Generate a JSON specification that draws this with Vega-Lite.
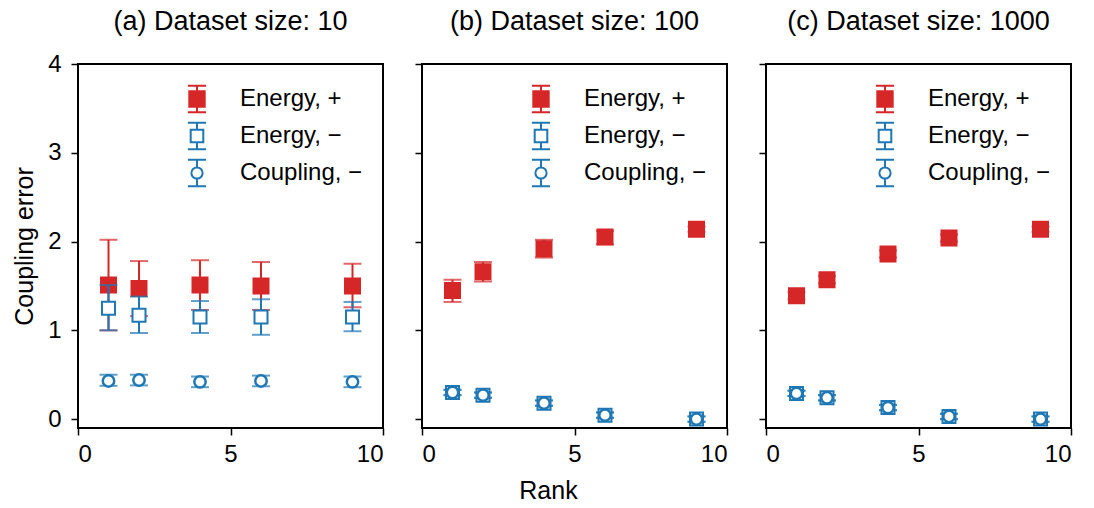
{
  "$schema": "https://vega.github.io/schema/vega-lite/v6.json",
  "background": "white",
  "padding": {"left": 11, "top": 7, "right": 5, "bottom": 5},
  "bounds": "flush",
  "spacing": 39,
  "config": {
    "font": "Liberation Sans",
    "view": {"stroke": "#000", "strokeWidth": 2},
    "axis": {"grid": false, "domain": false, "tickColor": "#000", "tickWidth": 1.5, "tickSize": 7, "labelColor": "#000", "labelFontSize": 24, "titleFontSize": 25, "titleColor": "#000", "titleFontWeight": "normal", "labelFont": "Liberation Sans", "titleFont": "Liberation Sans"},
    "title": {"fontSize": 27, "fontWeight": "normal", "color": "#000", "font": "Liberation Sans", "offset": 16, "frame": "group"},
    "legend": {"title": null, "orient": "top-right", "offset": 20, "padding": 0, "symbolSize": 784, "symbolStrokeWidth": 2, "labelFontSize": 24, "labelFont": "Liberation Sans", "labelColor": "#000", "labelOffset": 28, "rowPadding": 1, "labelLimit": 300}
  },
  "data": {"values": [
    {"ds": 10, "series": "Energy, +", "rank": 1, "mean": 1.51, "lo": 1.00, "hi": 2.02},
    {"ds": 10, "series": "Energy, +", "rank": 2, "mean": 1.47, "lo": 1.16, "hi": 1.78},
    {"ds": 10, "series": "Energy, +", "rank": 4, "mean": 1.51, "lo": 1.23, "hi": 1.79},
    {"ds": 10, "series": "Energy, +", "rank": 6, "mean": 1.50, "lo": 1.23, "hi": 1.77},
    {"ds": 10, "series": "Energy, +", "rank": 9, "mean": 1.50, "lo": 1.26, "hi": 1.75},
    {"ds": 10, "series": "Energy, −", "rank": 1, "mean": 1.25, "lo": 1.00, "hi": 1.51},
    {"ds": 10, "series": "Energy, −", "rank": 2, "mean": 1.17, "lo": 0.97, "hi": 1.38},
    {"ds": 10, "series": "Energy, −", "rank": 4, "mean": 1.15, "lo": 0.97, "hi": 1.33},
    {"ds": 10, "series": "Energy, −", "rank": 6, "mean": 1.15, "lo": 0.95, "hi": 1.35},
    {"ds": 10, "series": "Energy, −", "rank": 9, "mean": 1.15, "lo": 0.99, "hi": 1.32},
    {"ds": 10, "series": "Coupling, −", "rank": 1, "mean": 0.43, "lo": 0.375, "hi": 0.50},
    {"ds": 10, "series": "Coupling, −", "rank": 2, "mean": 0.44, "lo": 0.38, "hi": 0.50},
    {"ds": 10, "series": "Coupling, −", "rank": 4, "mean": 0.42, "lo": 0.36, "hi": 0.48},
    {"ds": 10, "series": "Coupling, −", "rank": 6, "mean": 0.43, "lo": 0.37, "hi": 0.49},
    {"ds": 10, "series": "Coupling, −", "rank": 9, "mean": 0.42, "lo": 0.36, "hi": 0.48},
    {"ds": 100, "series": "Energy, +", "rank": 1, "mean": 1.45, "lo": 1.32, "hi": 1.57},
    {"ds": 100, "series": "Energy, +", "rank": 2, "mean": 1.66, "lo": 1.55, "hi": 1.77},
    {"ds": 100, "series": "Energy, +", "rank": 4, "mean": 1.92, "lo": 1.82, "hi": 2.02},
    {"ds": 100, "series": "Energy, +", "rank": 6, "mean": 2.05, "lo": 1.97, "hi": 2.12},
    {"ds": 100, "series": "Energy, +", "rank": 9, "mean": 2.14, "lo": 2.11, "hi": 2.17},
    {"ds": 100, "series": "Energy, −", "rank": 1, "mean": 0.30, "lo": 0.27, "hi": 0.33},
    {"ds": 100, "series": "Energy, −", "rank": 2, "mean": 0.27, "lo": 0.24, "hi": 0.30},
    {"ds": 100, "series": "Energy, −", "rank": 4, "mean": 0.18, "lo": 0.15, "hi": 0.21},
    {"ds": 100, "series": "Energy, −", "rank": 6, "mean": 0.045, "lo": 0.015, "hi": 0.075},
    {"ds": 100, "series": "Energy, −", "rank": 9, "mean": 0.0, "lo": -0.03, "hi": 0.03},
    {"ds": 100, "series": "Coupling, −", "rank": 1, "mean": 0.30, "lo": 0.27, "hi": 0.33},
    {"ds": 100, "series": "Coupling, −", "rank": 2, "mean": 0.27, "lo": 0.24, "hi": 0.30},
    {"ds": 100, "series": "Coupling, −", "rank": 4, "mean": 0.18, "lo": 0.15, "hi": 0.21},
    {"ds": 100, "series": "Coupling, −", "rank": 6, "mean": 0.045, "lo": 0.015, "hi": 0.075},
    {"ds": 100, "series": "Coupling, −", "rank": 9, "mean": 0.0, "lo": -0.03, "hi": 0.03},
    {"ds": 1000, "series": "Energy, +", "rank": 1, "mean": 1.39, "lo": 1.35, "hi": 1.43},
    {"ds": 1000, "series": "Energy, +", "rank": 2, "mean": 1.57, "lo": 1.53, "hi": 1.61},
    {"ds": 1000, "series": "Energy, +", "rank": 4, "mean": 1.86, "lo": 1.82, "hi": 1.90},
    {"ds": 1000, "series": "Energy, +", "rank": 6, "mean": 2.04, "lo": 2.00, "hi": 2.08},
    {"ds": 1000, "series": "Energy, +", "rank": 9, "mean": 2.14, "lo": 2.11, "hi": 2.17},
    {"ds": 1000, "series": "Energy, −", "rank": 1, "mean": 0.29, "lo": 0.26, "hi": 0.32},
    {"ds": 1000, "series": "Energy, −", "rank": 2, "mean": 0.24, "lo": 0.21, "hi": 0.27},
    {"ds": 1000, "series": "Energy, −", "rank": 4, "mean": 0.13, "lo": 0.10, "hi": 0.16},
    {"ds": 1000, "series": "Energy, −", "rank": 6, "mean": 0.03, "lo": 0.0, "hi": 0.06},
    {"ds": 1000, "series": "Energy, −", "rank": 9, "mean": 0.0, "lo": -0.03, "hi": 0.03},
    {"ds": 1000, "series": "Coupling, −", "rank": 1, "mean": 0.29, "lo": 0.26, "hi": 0.32},
    {"ds": 1000, "series": "Coupling, −", "rank": 2, "mean": 0.24, "lo": 0.21, "hi": 0.27},
    {"ds": 1000, "series": "Coupling, −", "rank": 4, "mean": 0.13, "lo": 0.10, "hi": 0.16},
    {"ds": 1000, "series": "Coupling, −", "rank": 6, "mean": 0.03, "lo": 0.0, "hi": 0.06},
    {"ds": 1000, "series": "Coupling, −", "rank": 9, "mean": 0.0, "lo": -0.03, "hi": 0.03}
  ]},
  "hconcat": [
    {
      "width": 305, "height": 364,
      "title": "(a) Dataset size: 10",
      "transform": [{"filter": "datum.ds == 10"}],
      "encoding": {
        "x": {"field": "rank", "type": "quantitative", "scale": {"domain": [0, 10], "nice": false}, "axis": {"values": [0, 5, 10], "title": null, "labelPadding": 7}},
        "y": {"field": "mean", "type": "quantitative", "scale": {"domain": [-0.1, 4], "nice": false, "zero": false}, "axis": {"values": [0, 1, 2, 3, 4], "title": "Coupling error", "labelPadding": 10, "titlePadding": 10}}
      },
      "layer": [
        {"transform": [{"filter": "datum.series == 'Energy, +'"}], "mark": {"type": "errorbar", "color": "#d62728", "rule": {"strokeWidth": 2}, "ticks": {"size": 18, "thickness": 2}}, "encoding": {"y": {"field": "lo", "type": "quantitative"}, "y2": {"field": "hi"}}},
        {"transform": [{"filter": "datum.series == 'Energy, +'"}], "mark": {"type": "point", "shape": "square", "size": 225, "filled": true, "fill": "#d62728", "stroke": "#d62728", "strokeWidth": 2, "opacity": 1}},
        {"transform": [{"filter": "datum.series == 'Energy, −'"}], "mark": {"type": "errorbar", "color": "#1f77b4", "rule": {"strokeWidth": 2}, "ticks": {"size": 18, "thickness": 2}}, "encoding": {"y": {"field": "lo", "type": "quantitative"}, "y2": {"field": "hi"}}},
        {"transform": [{"filter": "datum.series == 'Energy, −'"}], "mark": {"type": "point", "shape": "square", "size": 169, "filled": true, "fill": "white", "stroke": "#1f77b4", "strokeWidth": 2, "opacity": 1}},
        {"transform": [{"filter": "datum.series == 'Coupling, −'"}], "mark": {"type": "errorbar", "color": "#1f77b4", "rule": {"strokeWidth": 2}, "ticks": {"size": 18, "thickness": 2}}, "encoding": {"y": {"field": "lo", "type": "quantitative"}, "y2": {"field": "hi"}}},
        {"transform": [{"filter": "datum.series == 'Coupling, −'"}], "mark": {"type": "point", "shape": "circle", "size": 130, "filled": true, "fill": "white", "stroke": "#1f77b4", "strokeWidth": 2.5, "opacity": 1}},
        {"transform": [{"filter": "false"}], "mark": {"type": "point", "filled": true, "opacity": 1, "strokeWidth": 2},
          "encoding": {
            "shape": {"field": "series", "type": "nominal", "scale": {"domain": ["Energy, +", "Energy, −", "Coupling, −"], "range": ["M-0.55,-0.55H0.55V0.55H-0.55Z M0,-0.55V-0.95 M-0.65,-0.95H0.65 M0,0.55V0.95 M-0.65,0.95H0.65", "M-0.45,-0.45H0.45V0.45H-0.45Z M0,-0.45V-0.95 M-0.65,-0.95H0.65 M0,0.45V0.95 M-0.65,0.95H0.65", "M0.4,0A0.4,0.4 0 1,1 -0.4,0A0.4,0.4 0 1,1 0.4,0Z M0,-0.4V-0.95 M-0.65,-0.95H0.65 M0,0.4V0.95 M-0.65,0.95H0.65"]}},
            "fill": {"field": "series", "type": "nominal", "scale": {"domain": ["Energy, +", "Energy, −", "Coupling, −"], "range": ["#d62728", "white", "white"]}},
            "stroke": {"field": "series", "type": "nominal", "scale": {"domain": ["Energy, +", "Energy, −", "Coupling, −"], "range": ["#d62728", "#1f77b4", "#1f77b4"]}}
          }}
      ]
    },
    {
      "width": 305, "height": 364,
      "title": "(b) Dataset size: 100",
      "transform": [{"filter": "datum.ds == 100"}],
      "encoding": {
        "x": {"field": "rank", "type": "quantitative", "scale": {"domain": [0, 10], "nice": false}, "axis": {"values": [0, 5, 10], "title": "Rank", "labelPadding": 7, "titleX": 126, "titlePadding": 12}},
        "y": {"field": "mean", "type": "quantitative", "scale": {"domain": [-0.1, 4], "nice": false, "zero": false}, "axis": {"values": [0, 1, 2, 3, 4], "title": null, "labelOpacity": 0, "labelPadding": 10}}
      },
      "layer": [
        {"transform": [{"filter": "datum.series == 'Energy, +'"}], "mark": {"type": "errorbar", "color": "#d62728", "rule": {"strokeWidth": 2}, "ticks": {"size": 18, "thickness": 2}}, "encoding": {"y": {"field": "lo", "type": "quantitative"}, "y2": {"field": "hi"}}},
        {"transform": [{"filter": "datum.series == 'Energy, +'"}], "mark": {"type": "point", "shape": "square", "size": 225, "filled": true, "fill": "#d62728", "stroke": "#d62728", "strokeWidth": 2, "opacity": 1}},
        {"transform": [{"filter": "datum.series == 'Energy, −'"}], "mark": {"type": "errorbar", "color": "#1f77b4", "rule": {"strokeWidth": 2}, "ticks": {"size": 18, "thickness": 2}}, "encoding": {"y": {"field": "lo", "type": "quantitative"}, "y2": {"field": "hi"}}},
        {"transform": [{"filter": "datum.series == 'Energy, −'"}], "mark": {"type": "point", "shape": "square", "size": 169, "filled": true, "fill": "white", "stroke": "#1f77b4", "strokeWidth": 2, "opacity": 1}},
        {"transform": [{"filter": "datum.series == 'Coupling, −'"}], "mark": {"type": "errorbar", "color": "#1f77b4", "rule": {"strokeWidth": 2}, "ticks": {"size": 18, "thickness": 2}}, "encoding": {"y": {"field": "lo", "type": "quantitative"}, "y2": {"field": "hi"}}},
        {"transform": [{"filter": "datum.series == 'Coupling, −'"}], "mark": {"type": "point", "shape": "circle", "size": 130, "filled": true, "fill": "white", "stroke": "#1f77b4", "strokeWidth": 2.5, "opacity": 1}},
        {"transform": [{"filter": "false"}], "mark": {"type": "point", "filled": true, "opacity": 1, "strokeWidth": 2},
          "encoding": {
            "shape": {"field": "series", "type": "nominal", "scale": {"domain": ["Energy, +", "Energy, −", "Coupling, −"], "range": ["M-0.55,-0.55H0.55V0.55H-0.55Z M0,-0.55V-0.95 M-0.65,-0.95H0.65 M0,0.55V0.95 M-0.65,0.95H0.65", "M-0.45,-0.45H0.45V0.45H-0.45Z M0,-0.45V-0.95 M-0.65,-0.95H0.65 M0,0.45V0.95 M-0.65,0.95H0.65", "M0.4,0A0.4,0.4 0 1,1 -0.4,0A0.4,0.4 0 1,1 0.4,0Z M0,-0.4V-0.95 M-0.65,-0.95H0.65 M0,0.4V0.95 M-0.65,0.95H0.65"]}},
            "fill": {"field": "series", "type": "nominal", "scale": {"domain": ["Energy, +", "Energy, −", "Coupling, −"], "range": ["#d62728", "white", "white"]}},
            "stroke": {"field": "series", "type": "nominal", "scale": {"domain": ["Energy, +", "Energy, −", "Coupling, −"], "range": ["#d62728", "#1f77b4", "#1f77b4"]}}
          }}
      ]
    },
    {
      "width": 305, "height": 364,
      "title": "(c) Dataset size: 1000",
      "transform": [{"filter": "datum.ds == 1000"}],
      "encoding": {
        "x": {"field": "rank", "type": "quantitative", "scale": {"domain": [0, 10], "nice": false}, "axis": {"values": [0, 5, 10], "title": null, "labelPadding": 7}},
        "y": {"field": "mean", "type": "quantitative", "scale": {"domain": [-0.1, 4], "nice": false, "zero": false}, "axis": {"values": [0, 1, 2, 3, 4], "title": null, "labelOpacity": 0, "labelPadding": 10}}
      },
      "layer": [
        {"transform": [{"filter": "datum.series == 'Energy, +'"}], "mark": {"type": "errorbar", "color": "#d62728", "rule": {"strokeWidth": 2}, "ticks": {"size": 18, "thickness": 2}}, "encoding": {"y": {"field": "lo", "type": "quantitative"}, "y2": {"field": "hi"}}},
        {"transform": [{"filter": "datum.series == 'Energy, +'"}], "mark": {"type": "point", "shape": "square", "size": 225, "filled": true, "fill": "#d62728", "stroke": "#d62728", "strokeWidth": 2, "opacity": 1}},
        {"transform": [{"filter": "datum.series == 'Energy, −'"}], "mark": {"type": "errorbar", "color": "#1f77b4", "rule": {"strokeWidth": 2}, "ticks": {"size": 18, "thickness": 2}}, "encoding": {"y": {"field": "lo", "type": "quantitative"}, "y2": {"field": "hi"}}},
        {"transform": [{"filter": "datum.series == 'Energy, −'"}], "mark": {"type": "point", "shape": "square", "size": 169, "filled": true, "fill": "white", "stroke": "#1f77b4", "strokeWidth": 2, "opacity": 1}},
        {"transform": [{"filter": "datum.series == 'Coupling, −'"}], "mark": {"type": "errorbar", "color": "#1f77b4", "rule": {"strokeWidth": 2}, "ticks": {"size": 18, "thickness": 2}}, "encoding": {"y": {"field": "lo", "type": "quantitative"}, "y2": {"field": "hi"}}},
        {"transform": [{"filter": "datum.series == 'Coupling, −'"}], "mark": {"type": "point", "shape": "circle", "size": 130, "filled": true, "fill": "white", "stroke": "#1f77b4", "strokeWidth": 2.5, "opacity": 1}},
        {"transform": [{"filter": "false"}], "mark": {"type": "point", "filled": true, "opacity": 1, "strokeWidth": 2},
          "encoding": {
            "shape": {"field": "series", "type": "nominal", "scale": {"domain": ["Energy, +", "Energy, −", "Coupling, −"], "range": ["M-0.55,-0.55H0.55V0.55H-0.55Z M0,-0.55V-0.95 M-0.65,-0.95H0.65 M0,0.55V0.95 M-0.65,0.95H0.65", "M-0.45,-0.45H0.45V0.45H-0.45Z M0,-0.45V-0.95 M-0.65,-0.95H0.65 M0,0.45V0.95 M-0.65,0.95H0.65", "M0.4,0A0.4,0.4 0 1,1 -0.4,0A0.4,0.4 0 1,1 0.4,0Z M0,-0.4V-0.95 M-0.65,-0.95H0.65 M0,0.4V0.95 M-0.65,0.95H0.65"]}},
            "fill": {"field": "series", "type": "nominal", "scale": {"domain": ["Energy, +", "Energy, −", "Coupling, −"], "range": ["#d62728", "white", "white"]}},
            "stroke": {"field": "series", "type": "nominal", "scale": {"domain": ["Energy, +", "Energy, −", "Coupling, −"], "range": ["#d62728", "#1f77b4", "#1f77b4"]}}
          }}
      ]
    }
  ],
  "resolve": {"scale": {"shape": "independent", "fill": "independent", "stroke": "independent"}, "legend": {"shape": "independent", "fill": "independent", "stroke": "independent"}}
}
